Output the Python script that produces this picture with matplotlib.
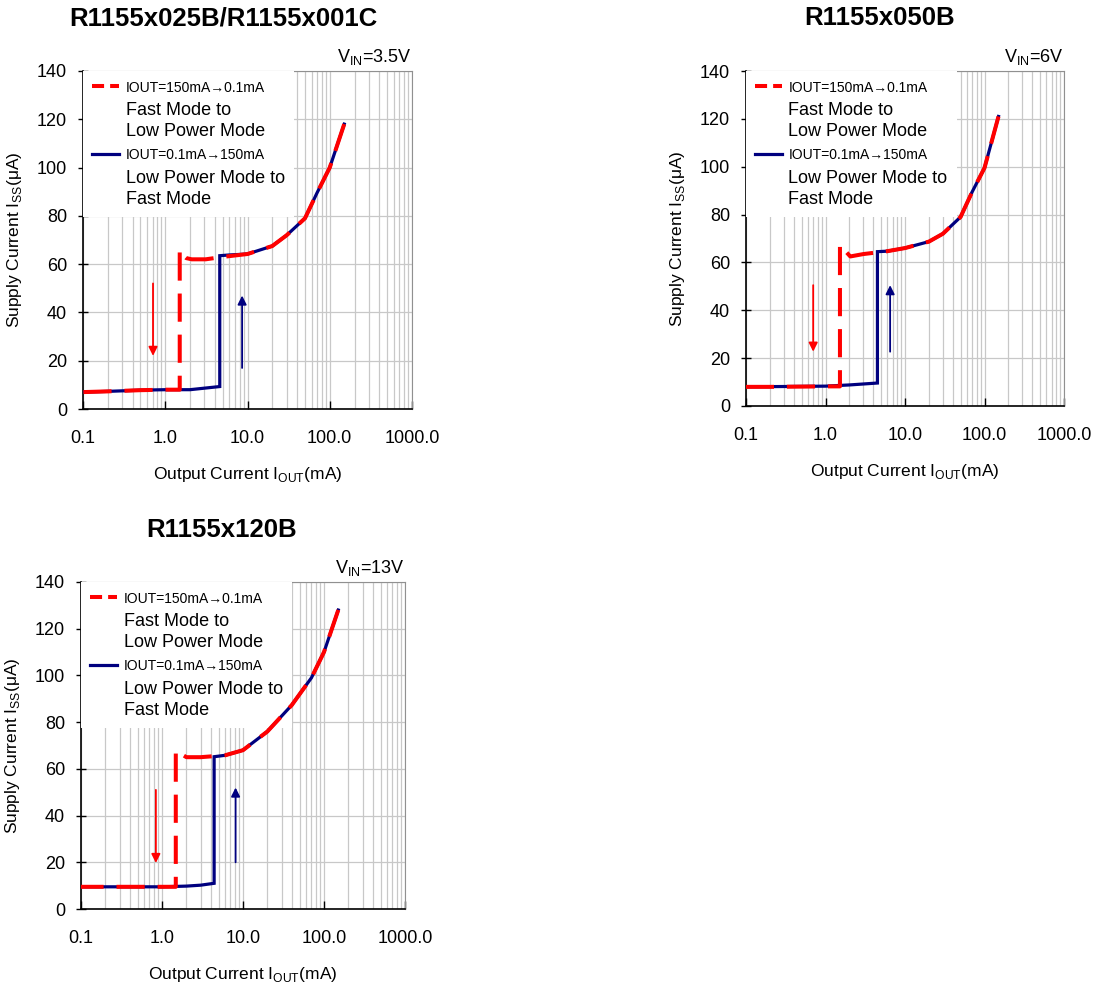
import matplotlib

matplotlib.use("Agg")
import matplotlib.pyplot as plt
from matplotlib.lines import Line2D
from matplotlib.ticker import FixedLocator, LogLocator, NullFormatter

plt.rcParams["font.family"] = ["Liberation Sans", "DejaVu Sans"]
plt.rcParams["mathtext.fontset"] = "custom"
plt.rcParams["mathtext.rm"] = "Liberation Sans"

W, H = 1095, 983
RED = "#ff0000"
BLUE = "#00007f"

titles = ["R1155x025B/R1155x001C", "R1155x050B", "R1155x120B"]
vin_labels = ["V$_{\\rm IN}$=3.5V", "V$_{\\rm IN}$=6V", "V$_{\\rm IN}$=13V"]

# IOUT = 0.1mA -> 150mA (low power -> fast)
up_x1 = [0.1, 0.2, 0.5, 1.0, 2.0, 4.6, 4.6, 6, 10, 20, 30, 50, 70, 100, 150]
up_y1 = [7.0, 7.3, 7.8, 8.0, 8.0, 9.3, 63.5, 63.8, 64.2, 67.5, 72, 79, 89.5, 100, 118]
up_x2 = [0.1, 0.2, 0.5, 1.0, 2.0, 3.0, 4.5, 4.5, 6, 10, 20, 30, 50, 70, 100, 150]
up_y2 = [8.0, 8.1, 8.2, 8.3, 8.8, 9.2, 9.6, 64.5, 64.7, 66, 68.7, 72, 79, 89.5, 99.5, 121]
up_x3 = [0.1, 0.2, 0.5, 1.0, 2.0, 3.0, 4.4, 4.4, 6, 10, 20, 40, 70, 100, 150]
up_y3 = [9.5, 9.5, 9.5, 9.5, 9.8, 10.2, 11, 65.2, 65.8, 68, 76, 87.3, 99, 110, 128]

# IOUT = 150mA -> 0.1mA (fast -> low power)
down_x1 = [150, 100, 70, 50, 30, 20, 10, 5, 3.1, 2.1, 1.8, 1.6, 1.52, 1.5, 1.5, 1.0, 0.5, 0.2, 0.1]
down_y1 = [118, 100, 89.5, 79, 72, 67.5, 64.2, 63, 62, 62, 62.5, 64, 66, 65, 8, 8.0, 7.8, 7.3, 7.0]
down_x2 = [150, 100, 70, 50, 30, 20, 10, 6, 3.0, 2.05, 1.75, 1.55, 1.52, 1.52, 1.0, 0.5, 0.2, 0.1]
down_y2 = [121, 99.5, 89.5, 79, 72, 68.7, 66, 64.7, 63.5, 62.5, 65, 67.5, 67, 8.2, 8.2, 8.1, 8.0, 8.0]
down_x3 = [150, 100, 70, 40, 20, 10, 6, 3.0, 2.0, 1.7, 1.5, 1.48, 1.48, 1.0, 0.5, 0.2, 0.1]
down_y3 = [128, 110, 99, 87.3, 76, 68, 65.8, 65, 65, 66.5, 68, 67, 9.5, 9.5, 9.5, 9.5, 9.5]

# arrows: (x, y_start, y_end)
red_arrows = [(0.71, 52, 22), (0.70, 50.5, 22.7), (0.84, 51, 19.7)]
blue_arrows = [(8.6, 17, 47), (6.5, 22.7, 50.5), (8.1, 20, 52)]

xticks = [0.1, 1, 10, 100, 1000]
xtick_labels = ["0.1", "1.0", "10.0", "100.0", "1000.0"]
yticks = [0, 20, 40, 60, 80, 100, 120, 140]

# axes boxes in pixels: left, top, right, bottom
boxes = [(83, 71, 412, 409), (746, 71, 1064, 406), (81, 582, 405, 909)]
title_pos = [(223, 18), (880, 18), (222, 530)]

ups = [(up_x1, up_y1), (up_x2, up_y2), (up_x3, up_y3)]
downs = [(down_x1, down_y1), (down_x2, down_y2), (down_x3, down_y3)]

fig = plt.figure(figsize=(W / 100, H / 100), dpi=100)

for i, (l, t, r, b) in enumerate(boxes):
    ax = fig.add_axes([l / W, (H - b) / H, (r - l) / W, (b - t) / H])
    ax.set_xscale("log")
    ax.set_xlim(0.1, 1000)
    ax.set_ylim(0, 140)
    ax.set_axisbelow(True)

    ax.xaxis.set_major_locator(FixedLocator(xticks))
    ax.set_xticklabels(xtick_labels)
    ax.xaxis.set_minor_locator(LogLocator(base=10, subs=range(2, 10)))
    ax.xaxis.set_minor_formatter(NullFormatter())
    ax.set_yticks(yticks)
    ax.grid(True, which="both", axis="x", color="#c8c8c8", lw=0.9)
    ax.grid(True, which="major", axis="y", color="#c8c8c8", lw=0.9)
    ax.tick_params(axis="x", which="major", direction="in", length=6, width=1, pad=15, labelsize=13)
    ax.tick_params(axis="x", which="minor", length=0)
    ax.tick_params(axis="y", direction="inout", length=7, width=1, pad=8, labelsize=13)
    for s in ("top", "right"):
        ax.spines[s].set_color("#909090")
    for s in ("left", "bottom"):
        ax.spines[s].set_color("black")
        ax.spines[s].set_linewidth(1.2)

    ux, uy = ups[i]
    dx, dy = downs[i]
    ax.plot(ux, uy, color=BLUE, lw=2.3, solid_joinstyle="miter", zorder=3)
    ax.plot(dx, dy, color=RED, lw=2.9, dashes=(7, 3.2), zorder=4)

    xa, y0, y1 = red_arrows[i]
    ax.annotate("", xy=(xa, y1), xytext=(xa, y0),
                arrowprops=dict(arrowstyle="-|>", color=RED, lw=1.3, mutation_scale=13,
                                shrinkA=0, shrinkB=0), zorder=5)
    xa, y0, y1 = blue_arrows[i]
    ax.annotate("", xy=(xa, y1), xytext=(xa, y0),
                arrowprops=dict(arrowstyle="-|>", color=BLUE, lw=1.3, mutation_scale=13,
                                shrinkA=0, shrinkB=0), zorder=5)

    ax.set_xlabel("Output Current I$_{\\rm OUT}$(mA)", fontsize=12.5, labelpad=13)
    ax.set_ylabel("Supply Current I$_{\\rm SS}$(μA)", fontsize=12.5, labelpad=9)

    ax.text(1.0, 1.012, vin_labels[i], transform=ax.transAxes, ha="right", va="bottom", fontsize=13)

    handles = [
        Line2D([], [], color=RED, lw=2.9, dashes=(3, 1.5)),
        Line2D([], [], color="none"),
        Line2D([], [], color=BLUE, lw=2.3),
        Line2D([], [], color="none"),
    ]
    labels = [
        "IOUT=150mA→0.1mA",
        "Fast Mode to\nLow Power Mode",
        "IOUT=0.1mA→150mA",
        "Low Power Mode to\nFast Mode",
    ]
    leg = ax.legend(handles, labels, loc="upper left", frameon=True, fancybox=False,
                    handlelength=1.6, handletextpad=0.4, labelspacing=0.45,
                    borderaxespad=0.0, borderpad=0.55, fontsize=12)
    leg.get_frame().set_facecolor("white")
    leg.get_frame().set_edgecolor("none")
    leg.get_frame().set_alpha(1.0)
    leg.set_zorder(2.5)
    for j, txt in enumerate(leg.get_texts()):
        txt.set_fontsize(10 if j % 2 == 0 else 13)
        txt.set_linespacing(1.3)

    tx, ty = title_pos[i]
    fig.text(tx / W, 1 - ty / H, titles[i], ha="center", va="center",
             fontsize=18.5, fontweight="bold")

fig.savefig("out.png", dpi=100)
